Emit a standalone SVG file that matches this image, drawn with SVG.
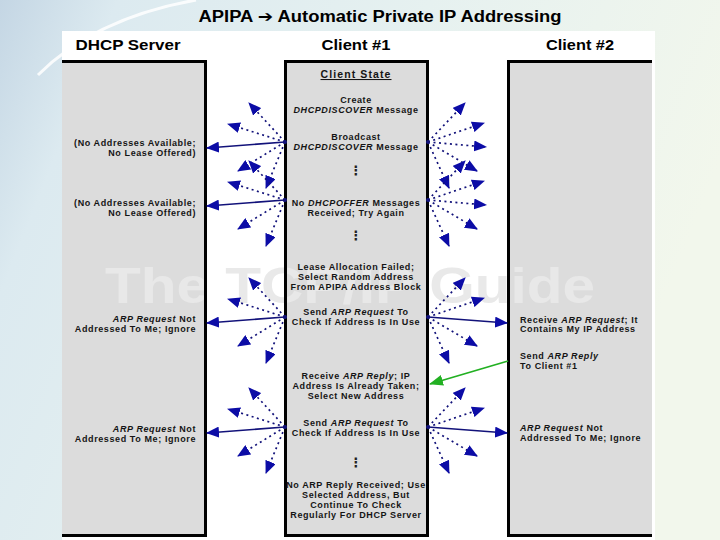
<svg xmlns="http://www.w3.org/2000/svg" xmlns:xlink="http://www.w3.org/1999/xlink" width="720" height="540" viewBox="0 0 720 540">
<style>
.t{font-family:"Liberation Sans",Arial,sans-serif;font-weight:bold;font-size:9px;letter-spacing:0.6px;fill:#151515}
.c{text-anchor:middle}
.l{text-anchor:end}
.i{font-style:italic}
.hdr{font-family:"Liberation Sans",Arial,sans-serif;font-weight:bold;font-size:15px;fill:#000;text-anchor:middle}
.ell{font-family:"DejaVu Sans",sans-serif;font-weight:bold;font-size:13px;fill:#222;text-anchor:middle}
.fill{fill:#dcdcdc}
.frame{fill:none;stroke:#000;stroke-width:3}
.dot{fill:none;stroke:#12127a;stroke-width:1.7;stroke-dasharray:2 3.5;marker-end:url(#ah)}
.sol{fill:none;stroke:#12127a;stroke-width:1.6;marker-end:url(#ah)}
.org{fill:#12127a}
</style>
<defs>
<linearGradient id="bg" x1="0" y1="0" x2="1" y2="0.3">
<stop offset="0" stop-color="#c4d6e4"/>
<stop offset="0.15" stop-color="#dceaf0"/>
<stop offset="0.55" stop-color="#e6f1f0"/>
<stop offset="1" stop-color="#f2f7ec"/>
</linearGradient>
<marker id="ah" markerUnits="userSpaceOnUse" markerWidth="13" markerHeight="11" refX="12" refY="5.5" orient="auto">
<path d="M0,0 L13,5.5 L0,11 z" fill="#0c0ca6"/>
</marker>
<marker id="ahg" markerUnits="userSpaceOnUse" markerWidth="14" markerHeight="11" refX="13" refY="5.5" orient="auto">
<path d="M0,0 L14,5.5 L0,11 z" fill="#22b022"/>
</marker>
<clipPath id="cDhcp"><rect x="62" y="63" width="142" height="471"/></clipPath>
<clipPath id="cC1"><rect x="287" y="63" width="140" height="471"/></clipPath>
<clipPath id="cC2"><rect x="510" y="63" width="142" height="471"/></clipPath>
<text id="wm" x="105" y="303" font-family="Liberation Sans,Arial,sans-serif" font-weight="bold" font-size="50" textLength="490" lengthAdjust="spacingAndGlyphs">The TCP/IP Guide</text>
</defs>

<g id="background">
<rect x="0" y="0" width="720" height="540" fill="url(#bg)"/>
<path d="M38,75 Q95,18 196,0" fill="none" stroke="#ffffff" stroke-width="3" opacity="0.85"/>
<rect x="62" y="31" width="593" height="509" fill="#ffffff"/>
<use xlink:href="#wm" href="#wm" fill="#e9e9e9"/>
</g>

<text x="380" y="22" font-family="Liberation Sans,'DejaVu Sans',Arial,sans-serif" font-weight="bold" font-size="16" text-anchor="middle" textLength="363" lengthAdjust="spacingAndGlyphs">APIPA ➔ Automatic Private IP Addressing</text>

<g id="dhcp-server">
<text class="hdr" x="128" y="50" textLength="105" lengthAdjust="spacingAndGlyphs">DHCP Server</text>
<rect class="fill" x="62" y="61.5" width="143.5" height="474"/>
<use xlink:href="#wm" href="#wm" fill="#e8e8e8" clip-path="url(#cDhcp)"/>
<path class="frame" d="M62,61.5 H205.5 V535.5 H62"/>
<text class="t l" x="196" y="145.5">(No Addresses Available;</text>
<text class="t l" x="196" y="155.5">No Lease Offered)</text>
<text class="t l" x="196" y="205.5">(No Addresses Available;</text>
<text class="t l" x="196" y="215.5">No Lease Offered)</text>
<text class="t l" x="196" y="321.5"><tspan class="i">ARP Request</tspan> Not</text>
<text class="t l" x="196" y="331.5">Addressed To Me; Ignore</text>
<text class="t l" x="196" y="431.5"><tspan class="i">ARP Request</tspan> Not</text>
<text class="t l" x="196" y="441.5">Addressed To Me; Ignore</text>
</g>

<g id="client-1">
<text class="hdr" x="356" y="50" textLength="69" lengthAdjust="spacingAndGlyphs">Client #1</text>
<rect class="fill" x="285.5" y="61.5" width="142" height="474"/>
<use xlink:href="#wm" href="#wm" fill="#e8e8e8" clip-path="url(#cC1)"/>
<rect class="frame" x="285.5" y="61.5" width="142" height="474"/>
<text class="t c" x="356" y="78" style="font-size:10.5px;letter-spacing:1.1px;text-decoration:underline">Client State</text>
<text class="t c" x="356" y="102.5">Create</text>
<text class="t c" x="356" y="112.5"><tspan class="i">DHCPDISCOVER</tspan> Message</text>
<text class="t c" x="356" y="139.5">Broadcast</text>
<text class="t c" x="356" y="149.5"><tspan class="i">DHCPDISCOVER</tspan> Message</text>
<text class="ell" x="356" y="175">⋮</text>
<text class="t c" x="356" y="205.5">No <tspan class="i">DHCPOFFER</tspan> Messages</text>
<text class="t c" x="356" y="215.5">Received; Try Again</text>
<text class="ell" x="356" y="240">⋮</text>
<text class="t c" x="356" y="269.5">Lease Allocation Failed;</text>
<text class="t c" x="356" y="279.5">Select Random Address</text>
<text class="t c" x="356" y="289.5">From APIPA Address Block</text>
<text class="t c" x="356" y="314.5">Send <tspan class="i">ARP Request</tspan> To</text>
<text class="t c" x="356" y="324.5">Check If Address Is In Use</text>
<text class="t c" x="356" y="378.5">Receive <tspan class="i">ARP Reply</tspan>; IP</text>
<text class="t c" x="356" y="388.5">Address Is Already Taken;</text>
<text class="t c" x="356" y="398.5">Select New Address</text>
<text class="t c" x="356" y="425.5">Send <tspan class="i">ARP Request</tspan> To</text>
<text class="t c" x="356" y="435.5">Check If Address Is In Use</text>
<text class="ell" x="356" y="467">⋮</text>
<text class="t c" x="356" y="488">No ARP Reply Received; Use</text>
<text class="t c" x="356" y="498">Selected Address, But</text>
<text class="t c" x="356" y="508">Continue To Check</text>
<text class="t c" x="356" y="518">Regularly For DHCP Server</text>
</g>

<g id="client-2">
<text class="hdr" x="580" y="50" textLength="68" lengthAdjust="spacingAndGlyphs">Client #2</text>
<rect class="fill" x="508.5" y="61.5" width="143.5" height="474"/>
<use xlink:href="#wm" href="#wm" fill="#e8e8e8" clip-path="url(#cC2)"/>
<path class="frame" d="M652,61.5 H508.5 V535.5 H652"/>
<text class="t" x="520" y="322.5">Receive <tspan class="i">ARP Request</tspan>; It</text>
<text class="t" x="520" y="331.5">Contains My IP Address</text>
<text class="t" x="520" y="358.5">Send <tspan class="i">ARP Reply</tspan></text>
<text class="t" x="520" y="368.5">To Client #1</text>
<text class="t" x="520" y="430.5"><tspan class="i">ARP Request</tspan> Not</text>
<text class="t" x="520" y="441">Addressed To Me; Ignore</text>
</g>

<g id="connectors">
<!-- fan 1: broadcast DHCPDISCOVER -->
<path class="dot" d="M285,142 L249,103"/>
<path class="dot" d="M285,142 L228,124"/>
<path class="sol" d="M285,142 L207,148"/>
<path class="dot" d="M285,142 L238,171"/>
<path class="dot" d="M285,142 L266,188"/>
<path class="dot" d="M428,142 L465,103"/>
<path class="dot" d="M428,142 L484,123"/>
<path class="dot" d="M428,142 L486,147"/>
<path class="dot" d="M428,142 L477,171"/>
<path class="dot" d="M428,142 L449,188"/>
<circle class="org" cx="285" cy="142" r="2"/>
<circle class="org" cx="428" cy="142" r="2"/>
<!-- fan 2: retry -->
<path class="dot" d="M285,200 L249,161"/>
<path class="dot" d="M285,200 L228,182"/>
<path class="sol" d="M285,200 L207,206"/>
<path class="dot" d="M285,200 L238,229"/>
<path class="dot" d="M285,200 L266,246"/>
<path class="dot" d="M428,200 L465,161"/>
<path class="dot" d="M428,200 L484,181"/>
<path class="dot" d="M428,200 L486,205"/>
<path class="dot" d="M428,200 L477,229"/>
<path class="dot" d="M428,200 L449,246"/>
<circle class="org" cx="285" cy="200" r="2"/>
<circle class="org" cx="428" cy="200" r="2"/>
<!-- fan 3: ARP request -->
<path class="dot" d="M285,317 L249,278"/>
<path class="dot" d="M285,317 L228,299"/>
<path class="sol" d="M285,317 L207,323"/>
<path class="dot" d="M285,317 L238,346"/>
<path class="dot" d="M285,317 L266,363"/>
<path class="dot" d="M428,317 L465,278"/>
<path class="dot" d="M428,317 L484,298"/>
<path class="sol" d="M428,317 L507,323"/>
<path class="dot" d="M428,317 L477,346"/>
<path class="dot" d="M428,317 L449,363"/>
<circle class="org" cx="285" cy="317" r="2"/>
<circle class="org" cx="428" cy="317" r="2"/>
<!-- ARP reply -->
<path d="M508,361 L430,384" fill="none" stroke="#22b022" stroke-width="1.8" marker-end="url(#ahg)"/>
<!-- fan 4: ARP request again -->
<path class="dot" d="M285,427 L249,388"/>
<path class="dot" d="M285,427 L228,409"/>
<path class="sol" d="M285,427 L207,433"/>
<path class="dot" d="M285,427 L238,456"/>
<path class="dot" d="M285,427 L266,473"/>
<path class="dot" d="M428,427 L465,388"/>
<path class="dot" d="M428,427 L484,408"/>
<path class="sol" d="M428,427 L507,433"/>
<path class="dot" d="M428,427 L477,456"/>
<path class="dot" d="M428,427 L449,473"/>
<circle class="org" cx="285" cy="427" r="2"/>
<circle class="org" cx="428" cy="427" r="2"/>
</g>
</svg>
